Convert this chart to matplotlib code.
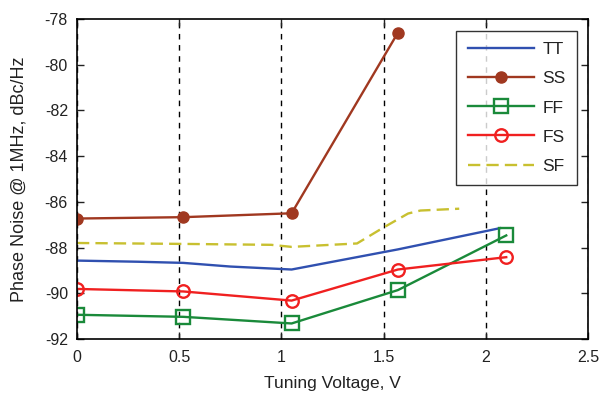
import matplotlib
matplotlib.use("Agg")
import matplotlib.pyplot as plt

# Data
tt_x = [0, 0.3, 0.52, 0.75, 1.05, 1.57, 2.07]
tt_y = [-88.57, -88.62, -88.67, -88.83, -88.96, -88.08, -87.15]
ss_x = [0, 0.52, 1.05, 1.57]
ss_y = [-86.73, -86.67, -86.5, -78.6]
ff_x = [0, 0.52, 1.05, 1.57, 2.1]
ff_y = [-90.94, -91.03, -91.32, -89.86, -87.47]
fs_x = [0, 0.52, 1.05, 1.57, 2.1]
fs_y = [-89.81, -89.92, -90.32, -88.96, -88.42]
sf_x = [0, 0.52, 0.95, 1.05, 1.37, 1.5, 1.62, 1.68, 1.87]
sf_y = [-87.8, -87.84, -87.88, -87.97, -87.82, -87.12, -86.51, -86.38, -86.3]

x_ticks = [0, 0.5, 1, 1.5, 2, 2.5]
x_tick_labels = ["0", "0.5", "1", "1.5", "2", "2.5"]
y_ticks = [-92, -90, -88, -86, -84, -82, -80, -78]

plt.rcParams['font.family'] = ['Liberation Sans', 'DejaVu Sans']

fig = plt.figure(figsize=(6.04, 3.93), dpi=100)
ax = fig.add_axes([0.1275, 0.1374, 0.846, 0.8143])

lw = 1.7
ax.plot(tt_x, tt_y, color='#3050b0', lw=lw, label='TT')
ax.plot(ss_x, ss_y, color='#a03820', lw=lw, marker='o', ms=8, mfc='#a03820', mec='#a03820', label='SS')
ax.plot(ff_x, ff_y, color='#1a8a3a', lw=lw, marker='s', ms=10, mfc='none', mec='#1a8a3a', mew=1.7, label='FF')
ax.plot(fs_x, fs_y, color='#f02020', lw=lw, marker='o', ms=9, mfc='none', mec='#f02020', mew=1.7, label='FS')
ax.plot(sf_x, sf_y, color='#c8c030', lw=lw, ls=(0, (5.2, 2.6)), label='SF')

ax.set_xlim(0, 2.5)
ax.set_ylim(-92, -78)
ax.set_xticks(x_ticks)
ax.set_xticklabels(x_tick_labels)
ax.set_yticks(y_ticks)
ax.set_yticklabels([str(v) for v in y_ticks])
ax.tick_params(direction='in', top=True, right=True, length=5, width=1, labelsize=11.5, colors='#222222')
ax.tick_params(axis='y', pad=6.5)
ax.tick_params(axis='x', pad=8)
ax.xaxis.grid(True, color='black', ls=(0, (4, 4)), lw=1)
ax.set_axisbelow(True)
for s in ax.spines.values():
    s.set_linewidth(1.2)

ax.set_xlabel('Tuning Voltage, V', fontsize=12.5, color='#222222', labelpad=8)
ax.set_ylabel('Phase Noise @ 1MHz, dBc/Hz', fontsize=13, color='#222222', labelpad=12)

leg = ax.legend(loc='upper right', bbox_to_anchor=(0.978, 0.9625), borderaxespad=0,
                fontsize=12.5, handlelength=3.8, labelspacing=0.8, frameon=True,
                fancybox=False, edgecolor='black', borderpad=0.65, handletextpad=0.5)
leg.get_frame().set_linewidth(1.0)
for t in leg.get_texts():
    t.set_color('#222222')

fig.savefig('out.png', dpi=100)
